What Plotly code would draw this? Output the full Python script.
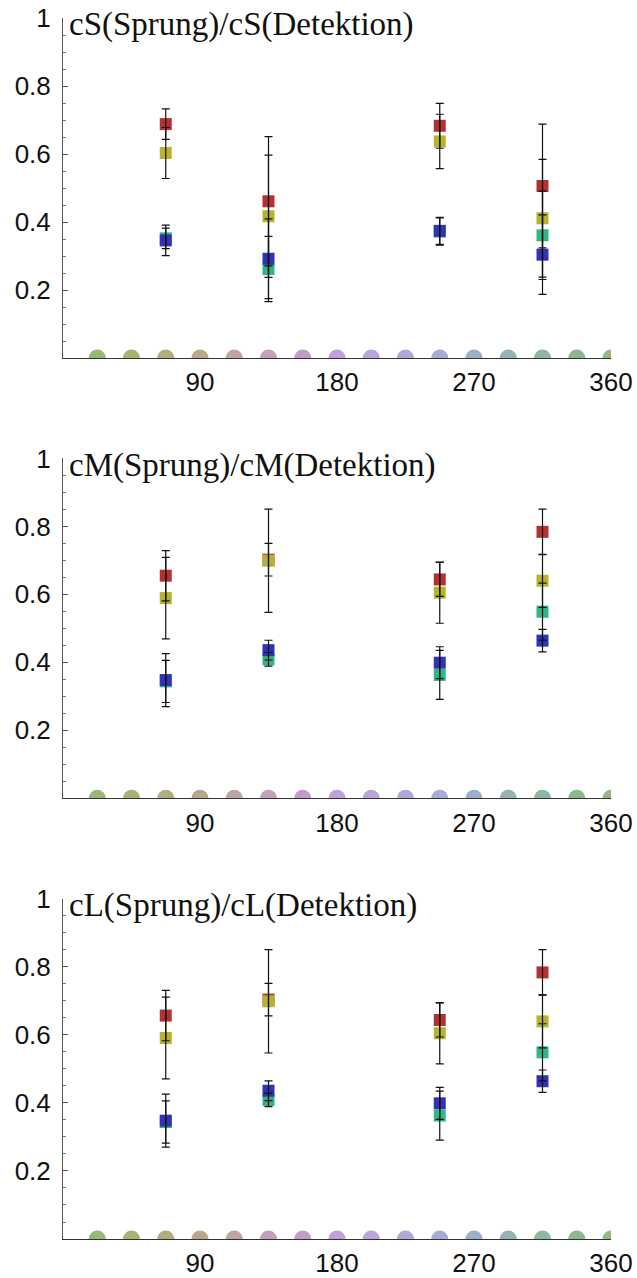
import plotly.graph_objects as go

# ---------------- data ----------------
square_angles = [67.5, 135, 247.5, 315]
circle_angles = [22.5, 45, 67.5, 90, 112.5, 135, 157.5, 180, 202.5, 225,
                 247.5, 270, 292.5, 315, 337.5, 360]
circle_values = [0] * 16
circle_colors = ["#9bb57a", "#a5b375", "#b0ae80", "#b8a88e", "#c0a4a4", "#c4a0bc",
                 "#c49ccc", "#bfa0d8", "#baa4d8", "#b0a8d8", "#a8acd4", "#9cb0c8",
                 "#94b4b4", "#8cb8a0", "#8cb88c", "#98b880"]

titles = ["cS(Sprung)/cS(Detektion)", "cM(Sprung)/cM(Detektion)", "cL(Sprung)/cL(Detektion)"]
series_names = ["red", "yellow", "green", "blue"]
series_colors = ["#b33131", "#b5b32f", "#30b585", "#3232b5"]

# cS panel
cS_red = [0.688, 0.461, 0.683, 0.506]
cS_red_err = [0.045, 0.19, 0.066, 0.182]
cS_yellow = [0.603, 0.417, 0.637, 0.411]
cS_yellow_err = [0.075, 0.18, 0.08, 0.173]
cS_green = [0.352, 0.262, 0.372, 0.361]
cS_green_err = [0.03, 0.096, 0.04, 0.13]
cS_blue = [0.346, 0.292, 0.374, 0.304]
cS_blue_err = [0.045, 0.117, 0.04, 0.117]

# cM panel
cM_red = [0.655, 0.702, 0.644, 0.784]
cM_red_err = [0.074, 0.048, 0.05, 0.067]
cM_yellow = [0.589, 0.699, 0.605, 0.640]
cM_yellow_err = [0.12, 0.152, 0.09, 0.078]
cM_green = [0.344, 0.409, 0.363, 0.549]
cM_green_err = [0.062, 0.02, 0.072, 0.084]
cM_blue = [0.348, 0.436, 0.399, 0.464]
cM_blue_err = [0.078, 0.029, 0.047, 0.033]

# cL panel
cL_red = [0.657, 0.704, 0.644, 0.784]
cL_red_err = [0.074, 0.048, 0.05, 0.067]
cL_yellow = [0.591, 0.699, 0.605, 0.640]
cL_yellow_err = [0.12, 0.152, 0.09, 0.078]
cL_green = [0.344, 0.409, 0.363, 0.549]
cL_green_err = [0.062, 0.02, 0.072, 0.084]
cL_blue = [0.348, 0.436, 0.399, 0.464]
cL_blue_err = [0.078, 0.029, 0.047, 0.033]

x_ticks = [90, 180, 270, 360]
y_ticks = [0.2, 0.4, 0.6, 0.8, 1]
y_ticktext = ["0.2", "0.4", "0.6", "0.8", "1"]

panels = [
    ([cS_red, cS_yellow, cS_green, cS_blue], [cS_red_err, cS_yellow_err, cS_green_err, cS_blue_err]),
    ([cM_red, cM_yellow, cM_green, cM_blue], [cM_red_err, cM_yellow_err, cM_green_err, cM_blue_err]),
    ([cL_red, cL_yellow, cL_green, cL_blue], [cL_red_err, cL_yellow_err, cL_green_err, cL_blue_err]),
]

# ---------------- figure ----------------
fig = go.Figure()
domains = [[0.7215, 1.0], [0.3609, 0.6393], [0.0, 0.2785]]

for i, (vals, errs) in enumerate(panels):
    ax = "" if i == 0 else str(i + 1)
    xa, ya = "x" + ax, "y" + ax
    # circles on the base line
    fig.add_trace(go.Scatter(x=circle_angles, y=circle_values, mode="markers",
                             marker=dict(symbol="circle", size=17, color=circle_colors),
                             cliponaxis=True, showlegend=False, xaxis=xa, yaxis=ya,
                             hoverinfo="skip"))
    # squares
    for v, c, n in zip(vals, series_colors, series_names):
        fig.add_trace(go.Scatter(x=square_angles, y=v, mode="markers", name=n,
                                 marker=dict(symbol="square", size=12, color=c),
                                 showlegend=False, xaxis=xa, yaxis=ya))
    # error bars drawn on top
    for v, e in zip(vals, errs):
        fig.add_trace(go.Scatter(x=square_angles, y=v, mode="markers",
                                 marker=dict(size=1, color="rgba(0,0,0,0)"),
                                 error_y=dict(type="data", array=e, visible=True,
                                              color="#111111", thickness=1.2, width=4),
                                 showlegend=False, xaxis=xa, yaxis=ya, hoverinfo="skip"))

    fig.layout["xaxis" + ax] = dict(
        domain=[0, 1], anchor=ya, range=[0, 360], tickvals=x_ticks,
        ticks="", showline=True, linecolor="#333333", linewidth=1,
        showgrid=False, zeroline=False, automargin=False,
        tickfont=dict(family="Liberation Sans, Arial, sans-serif", size=26, color="#111111"),
        ticklabelstandoff=1,
    )
    fig.layout["yaxis" + ax] = dict(
        domain=domains[i], anchor=xa, range=[0, 1], tickvals=y_ticks, ticktext=y_ticktext,
        ticks="inside", ticklen=5, tickcolor="#555555", tickwidth=1,
        minor=dict(ticks="inside", ticklen=3, tickcolor="#777777", dtick=0.05, tick0=0),
        showline=True, linecolor="#555555", linewidth=1,
        showgrid=False, zeroline=False, automargin=False,
        tickfont=dict(family="Liberation Sans, Arial, sans-serif", size=26, color="#111111"),
        ticklabelstandoff=6,
    )
    fig.add_annotation(text=titles[i], xref=xa + " domain", yref=ya + " domain",
                       x=0.008, y=1.04, xanchor="left", yanchor="top", showarrow=False,
                       font=dict(family="Liberation Serif, serif", size=33, color="#111111"))

fig.update_layout(width=637, height=1278, margin=dict(l=63, r=26, t=18, b=39, autoexpand=False),
                  plot_bgcolor="white", paper_bgcolor="white", showlegend=False)

fig.write_html("out.html")
